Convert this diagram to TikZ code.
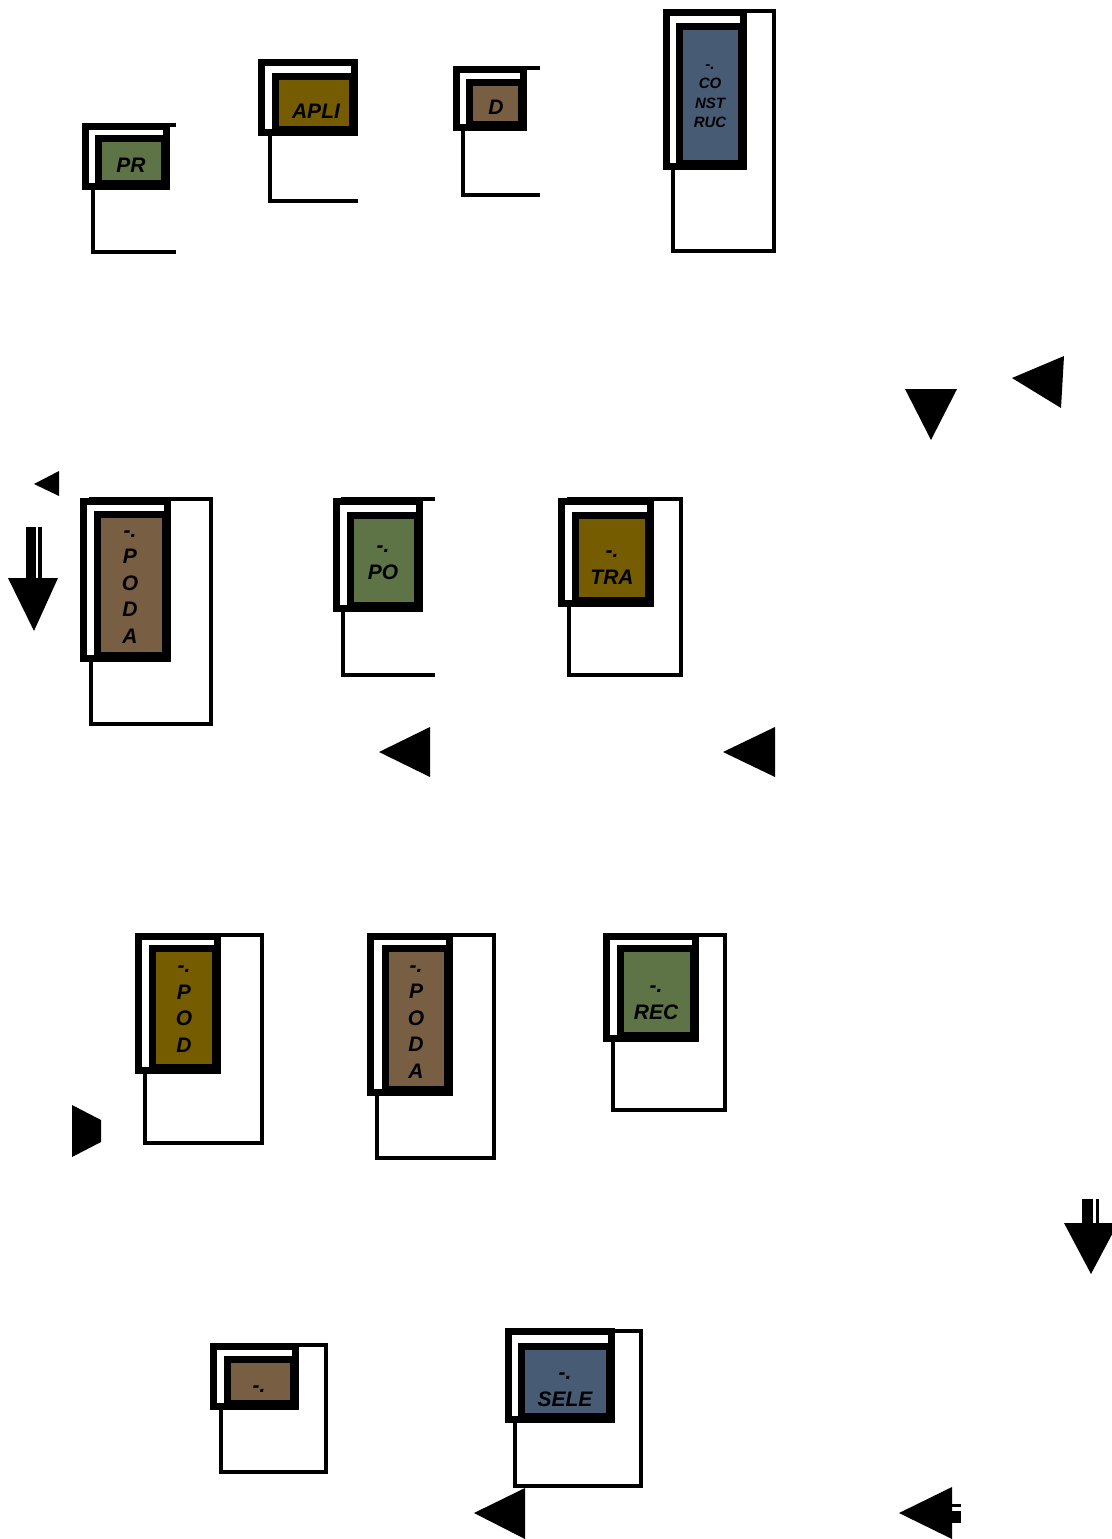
\documentclass[tikz,border=0pt]{standalone}
\usepackage{fontspec}
\setsansfont{Liberation Sans}
\usepackage{tikz}
\usetikzlibrary{positioning}
\definecolor{leafgreen}{RGB}{94,116,71}
\definecolor{olivebox}{RGB}{118,92,0}
\definecolor{clayboxc}{RGB}{120,95,68}
\definecolor{slatebox}{RGB}{71,91,116}
\tikzset{
  frame/.style={draw=black, line width=7pt, fill=white},
  core/.style={draw=black, line width=7pt},
  guide/.style={draw=black, line width=4pt},
  boxtext/.style={font=\sffamily\bfseries\itshape\fontsize{21}{27}\selectfont,
    align=center, inner sep=0pt},
  stacktext/.style={boxtext, font=\sffamily\bfseries\itshape\fontsize{21}{26.5}\selectfont},
  smalltext/.style={boxtext, font=\sffamily\bfseries\itshape\fontsize{15}{19.5}\selectfont},
  tip/.style={fill=black}
}

\begin{document}
\begin{tikzpicture}[x=1pt, y=-1pt]
  \useasboundingbox (0,0) rectangle (1111,1539);

  % first row
  \draw[guide] (176,124.5) -- (93,124.5) -- (93,251.5) -- (176,251.5);
  \draw[frame] (85.5,126.5) rectangle (166.5,186.5);
  \draw[core, fill=leafgreen] (98.5,138.5) rectangle (164.5,183.5);
  \node[boxtext] (pr) at (131,165) {PR};

  \draw[guide] (358,61) -- (269.5,61) -- (269.5,200.5) -- (358,200.5);
  \draw[frame] (261.5,62.5) rectangle (354.5,132.5);
  \draw[core, fill=olivebox] (275.5,76.5) rectangle (352.5,129.5);
  \node[boxtext] (apli) at (316,111) {APLI};

  \draw[guide] (540,67.5) -- (463,67.5) -- (463,194.5) -- (540,194.5);
  \draw[frame] (456.5,69.5) rectangle (523.5,127.5);
  \draw[core, fill=clayboxc] (469.5,82.5) rectangle (521.5,124.5);
  \node[boxtext] (d) at (496,107) {D};

  \draw[guide] (673,10.5) rectangle (774,250.5);
  \draw[frame] (666.5,12.5) rectangle (743.5,166.5);
  \draw[core, fill=slatebox] (679.5,26.5) rectangle (741.5,163.5);
  \node[smalltext] (construc) at (710,96) {-.\\CO\\NST\\RUC};

  \fill[tip] (905,389) -- (957,389) -- (931,440) -- cycle;
  \fill[tip] (1012,378) -- (1064,356) -- (1061,408) -- cycle;

  % second row
  \fill[tip] (34,484) -- (59,471) -- (59,496) -- cycle;
  \fill[tip] (26,527) rectangle (36,579);
  \fill[tip] (38,527) rectangle (42,579);
  \fill[tip] (8,578) -- (58,578) -- (34,631) -- cycle;

  \draw[guide] (90.5,499) rectangle (210.5,724);
  \draw[frame] (83.5,501.5) rectangle (167.5,658.5);
  \draw[core, fill=clayboxc] (97.5,514.5) rectangle (165.5,655.5);
  \node[stacktext] (poda) at (130,587) {-.\\P\\O\\D\\A};

  \draw[guide] (435,499) -- (343,499) -- (343,675) -- (435,675);
  \draw[frame] (336.5,501.5) rectangle (419.5,608.5);
  \draw[core, fill=leafgreen] (350.5,515.5) rectangle (417.5,605.5);
  \node[boxtext] (po) at (383,563) {-.\\PO};

  \draw[guide] (569,499) rectangle (681,675);
  \draw[frame] (561.5,501.5) rectangle (650.5,603.5);
  \draw[core, fill=olivebox] (575.5,515.5) rectangle (648.5,600.5);
  \node[boxtext] (tra) at (612,568) {-.\\TRA};

  \fill[tip] (379,752) -- (430,727) -- (430,777) -- cycle;
  \fill[tip] (723,752) -- (775,727) -- (775,777) -- cycle;

  % third row
  \draw[guide] (145,935) rectangle (261.5,1142.5);
  \draw[frame] (138.5,936.5) rectangle (217.5,1070.5);
  \draw[core, fill=olivebox] (152.5,948.5) rectangle (215.5,1067.5);
  \node[stacktext] (pod) at (184,1009) {-.\\P\\O\\D};

  \draw[guide] (377,935) rectangle (494,1158);
  \draw[frame] (370.5,936.5) rectangle (449.5,1092.5);
  \draw[core, fill=clayboxc] (385.5,948.5) rectangle (447.5,1089.5);
  \node[stacktext] (podb) at (416,1022) {-.\\P\\O\\D\\A};

  \draw[guide] (613,935) rectangle (725,1109.5);
  \draw[frame] (606.5,936.5) rectangle (695.5,1038.5);
  \draw[core, fill=leafgreen] (620.5,948.5) rectangle (693.5,1035.5);
  \node[boxtext] (rec) at (656,1003) {-.\\REC};

  \fill[tip] (72,1105) -- (101,1120) -- (101,1142) -- (72,1157) -- cycle;

  \fill[tip] (1082,1199) rectangle (1093,1224);
  \fill[tip] (1096,1199) rectangle (1099,1224);
  \fill[tip] (1064,1223) -- (1118,1223) -- (1091,1274) -- cycle;

  % fourth row
  \draw[guide] (220.5,1345) rectangle (326,1471.5);
  \draw[frame] (213.5,1346.5) rectangle (295.5,1406.5);
  \draw[core, fill=clayboxc] (227.5,1359.5) rectangle (293.5,1403.5);
  \node[boxtext] (dash) at (259,1389) {-.};

  \draw[guide] (515,1330.5) rectangle (641,1485.5);
  \draw[frame] (508.5,1331.5) rectangle (611.5,1419.5);
  \draw[core, fill=slatebox] (521.5,1346.5) rectangle (609.5,1416.5);
  \node[boxtext] (sele) at (565,1390) {-.\\SELE};

  \fill[tip] (474,1513) -- (525,1488) -- (525,1539) -- cycle;

  \fill[tip] (899,1513) -- (952,1487) -- (952,1539) -- cycle;
  \fill[tip] (951,1504) rectangle (961,1507);
  \fill[tip] (951,1511) rectangle (961,1523);
\end{tikzpicture}
\end{document}
